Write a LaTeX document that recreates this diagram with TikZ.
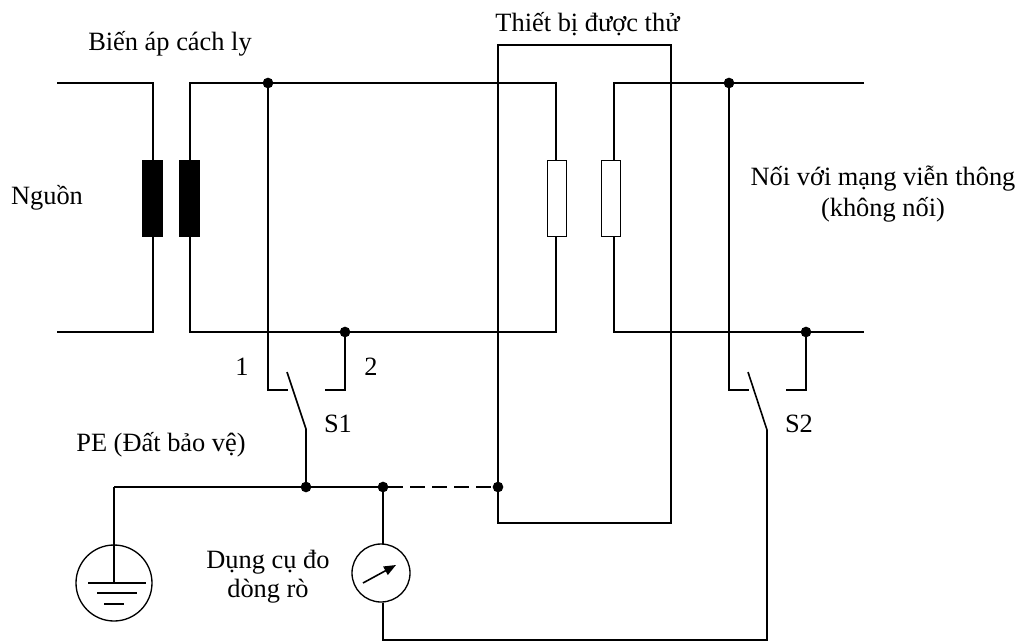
\documentclass[tikz,border=0pt]{standalone}
\usepackage{fontspec}
\setmainfont{Liberation Serif}
\usetikzlibrary{arrows.meta}
\tikzset{
  wire/.style={line width=1.2pt},
  heavy/.style={line width=1.7pt},
  junction/.style={circle,fill=black,inner sep=0pt,minimum size=8pt},
  coil/.style={draw,line width=1.2pt,fill=black,inner sep=0pt,minimum width=14pt,minimum height=57pt},
  resistor/.style={draw,line width=1.2pt,fill=white,inner sep=0pt,minimum width=14pt,minimum height=57pt},
  dial/.style={draw,line width=1pt,fill=white,circle,inner sep=0pt,minimum size=43.5pt},
  earthring/.style={draw,line width=1pt,circle,inner sep=0pt,minimum size=57pt},
  tag/.style={font=\fontsize{19.8pt}{22pt}\selectfont,inner sep=0pt,align=center}
}
\begin{document}
\begin{tikzpicture}[x=0.75pt,y=-0.75pt]
    \useasboundingbox (0,0) rectangle (1020,642);

    % corner points of the lines
    \coordinate (pritop) at (57,83);
    \coordinate (pribot) at (57,332);
    \coordinate (prikneetop) at (153,83);
    \coordinate (prikneebot) at (153,332);
    \coordinate (outtop) at (864,83);
    \coordinate (outbot) at (864,332);
    \coordinate (pegnd) at (114,487);
    \coordinate (soneb) at (288,390);
    \coordinate (sonec) at (325,390);
    \coordinate (sonetip) at (287,372);
    \coordinate (sonehinge) at (306,429);
    \coordinate (stwob) at (749,390);
    \coordinate (stwoc) at (786,390);
    \coordinate (stwotip) at (748,372);
    \coordinate (stwohinge) at (767,430);
    \coordinate (meterbot) at (383,640);
    \coordinate (stwobot) at (767,640);

    % junctions
    \node[junction] (topone) at (268,83) {};
    \node[junction] (toptwo) at (729,83) {};
    \node[junction] (botone) at (345,332) {};
    \node[junction] (bottwo) at (806,332) {};
    \node[junction] (pesw) at (306,487) {};
    \node[junction] (pemeter) at (383,487) {};
    \node[junction] (pedut) at (498,487) {};

    % device under test
    \draw[wire] (498,45) rectangle (671,523);

    % transformer
    \draw[wire] (pritop) -- (prikneetop) -- (prikneebot) -- (pribot);
    \draw[wire] (190,83) rectangle (556,332);
    \node[coil] (priwind) at (152.5,198.5) {};
    \node[coil] (secwind) at (189.5,198.5) {};

    % right hand lines
    \draw[wire] (outtop) -- (614,83) -- (614,332) -- (outbot);
    \node[resistor] (resa) at (557,198.5) {};
    \node[resistor] (resb) at (611,198.5) {};

    % switch S1
    \draw[heavy] (topone.center) |- (soneb);
    \draw[wire] (sonetip) -- (sonehinge);
    \draw[heavy] (sonehinge) -- (pesw.center);
    \draw[heavy] (botone.center) |- (sonec);

    % switch S2
    \draw[heavy] (toptwo.center) |- (stwob);
    \draw[wire] (stwotip) -- (stwohinge);
    \draw[heavy] (bottwo.center) |- (stwoc);

    % PE line
    \draw[heavy] (pegnd) -- (pemeter.center);
    \draw[wire] (pegnd) -- (114,583);
    \draw[wire,dash pattern=on 11pt off 5.5pt,dash phase=-4pt] (pemeter.center) -- (pedut.center);

    % earth symbol
    \node[earthring] (earth) at (114,583) {};
    \draw[wire] (88,583) -- (146,583);
    \draw[wire] (97,593) -- (137,593);
    \draw[wire] (104,604) -- (124,604);

    % meter
    \node[dial] (meter) at (381,573) {};
    \draw[heavy] (pemeter.center) -- (383,544);
    \draw[wire] (383,603) -- (meterbot) -- (stwobot) -- (stwohinge);
    \draw[wire,-{Triangle[length=9pt,width=7pt]}] (363,583) -- (396,565);

    % labels
    \node[tag] (lbltrans) at (170,44) {Biến áp cách ly};
    \node[tag] (lbldut) at (587.5,24) {Thiết bị được thử};
    \node[tag] (lblsrc) at (47,198) {Nguồn};
    \node[tag] (lblnet) at (883,194) {Nối với mạng viễn thông\\[1.5pt](không nối)};
    \node[tag] (lblone) at (242,367) {1};
    \node[tag] (lbltwo) at (371,367) {2};
    \node[tag] (lblsone) at (338,424) {S1};
    \node[tag] (lblstwo) at (799,424) {S2};
    \node[tag] (lblpe) at (161,445) {PE (Đất bảo vệ)};
    \node[tag] (lblmeter) at (268,577) {Dụng cụ đo\\dòng rò};

\end{tikzpicture}
\end{document}
